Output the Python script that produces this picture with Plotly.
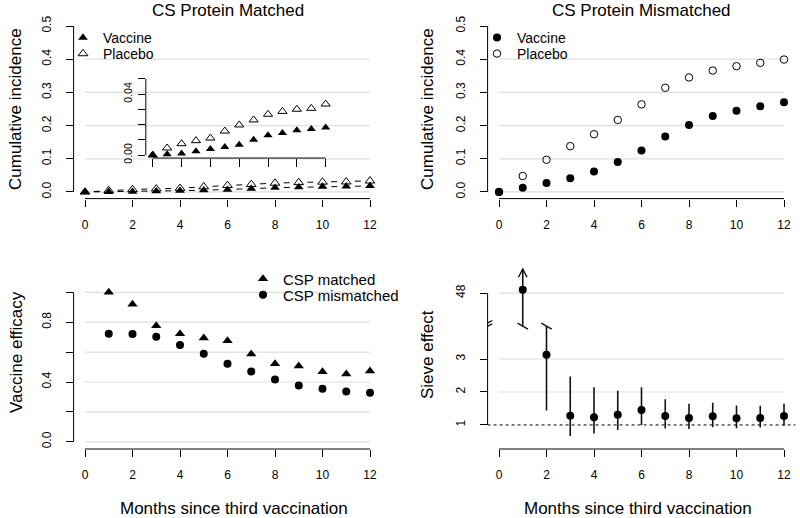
import plotly.graph_objects as go

# ---------------- data ----------------
months = list(range(13))
matched_vaccine = [0.0, 0.0005, 0.0010, 0.0024, 0.0039, 0.0052, 0.0068, 0.0100, 0.0129, 0.0144, 0.0162, 0.0170, 0.0180]
matched_placebo = [0.0, 0.0046, 0.0074, 0.0094, 0.0111, 0.0157, 0.0197, 0.0230, 0.0267, 0.0286, 0.0300, 0.0306, 0.0334]

mismatched_vaccine = [0.0, 0.013, 0.027, 0.041, 0.062, 0.090, 0.125, 0.167, 0.202, 0.229, 0.245, 0.258, 0.270]
mismatched_placebo = [0.0, 0.048, 0.097, 0.138, 0.174, 0.217, 0.264, 0.314, 0.345, 0.366, 0.379, 0.389, 0.399]

ve_months = list(range(1, 13))
ve_matched = [1.0, 0.92, 0.777, 0.723, 0.694, 0.676, 0.587, 0.522, 0.507, 0.469, 0.453, 0.473]
ve_mismatched = [0.723, 0.721, 0.703, 0.647, 0.589, 0.522, 0.471, 0.417, 0.377, 0.355, 0.337, 0.328]

sieve_months = list(range(1, 13))
sieve_est = [48.1, 3.13, 1.28, 1.23, 1.31, 1.45, 1.27, 1.21, 1.26, 1.20, 1.21, 1.27]
sieve_lo = [None, 1.44, 0.665, 0.74, 0.85, 1.00, 0.89, 0.88, 0.93, 0.90, 0.92, 0.98]   # None: below the axis break
sieve_hi = [None, None, 2.47, 2.14, 2.04, 2.14, 1.78, 1.64, 1.67, 1.59, 1.58, 1.64]    # None: beyond break / unbounded

x_ticks = [0, 2, 4, 6, 8, 10, 12]
ci_ticks = [0.0, 0.1, 0.2, 0.3, 0.4, 0.5]
ci_ticktext = ["0.0", "0.1", "0.2", "0.3", "0.4", "0.5"]
ci_grid = [0.0, 0.1, 0.2, 0.3, 0.4]
inset_ticks = [0.0, 0.01, 0.02, 0.03, 0.04, 0.05]
inset_ticktext = ["0.00", "", "", "", "0.04", ""]
ve_ticks = [0.0, 0.2, 0.4, 0.6, 0.8, 1.0]
ve_ticktext = ["0.0", "", "0.4", "", "0.8", ""]
sieve_tick_values = [1, 2, 3, 48]
sieve_grid_values = [2, 3, 48]

# ---------------- broken-axis mapping for the sieve panel ----------------
BREAK_LOW = 4.0      # axis position where the break sits
BREAK_SHIFT = 43.0   # values above the break are shifted down by this
ARROW_TOP = 5.73


def to_axis(v):
    return v if v <= BREAK_LOW else v - BREAK_SHIFT


# ---------------- style ----------------
W, H = 800, 518
FONT = "Liberation Sans, Arial, Helvetica, sans-serif"
INK = "#000000"
GRID = "#dedede"


def px_x(p):
    return p / W


def px_y(p):
    return 1 - p / H


TL_X = [px_x(73.6), px_x(381.4)]
TR_X = [px_x(487.6), px_x(795.4)]
TOP_Y = [px_y(198.6), px_y(19.4)]
BOT_Y = [px_y(449.0), px_y(255.2)]
INSET_X = [px_x(145.8), px_x(332.6)]
INSET_Y = [px_y(158.05), px_y(75.7)]

fig = go.Figure()

# ---- top-left: CS protein matched ----
dash_pat = "0px,8.9px,6px,8.85px"
fig.add_trace(go.Scatter(x=months, y=matched_placebo, mode="lines", line=dict(color=INK, width=1, dash=dash_pat),
                         showlegend=False, hoverinfo="skip", xaxis="x", yaxis="y"))
fig.add_trace(go.Scatter(x=months, y=matched_vaccine, mode="lines", line=dict(color=INK, width=1, dash=dash_pat),
                         showlegend=False, hoverinfo="skip", xaxis="x", yaxis="y"))
fig.add_trace(go.Scatter(x=months, y=matched_placebo, mode="markers", name="Placebo", legend="legend2",
                         marker=dict(symbol="triangle-up-open", size=8.5, color=INK, line=dict(width=1, color=INK)),
                         xaxis="x", yaxis="y"))
fig.add_trace(go.Scatter(x=months, y=matched_vaccine, mode="markers", name="Vaccine", legend="legend",
                         marker=dict(symbol="triangle-up", size=8.5, color=INK),
                         xaxis="x", yaxis="y"))
# inset
fig.add_trace(go.Scatter(x=months, y=matched_placebo, mode="markers", showlegend=False,
                         marker=dict(symbol="triangle-up-open", size=8, color=INK, line=dict(width=1, color=INK)),
                         xaxis="x5", yaxis="y5"))
fig.add_trace(go.Scatter(x=months, y=matched_vaccine, mode="markers", showlegend=False,
                         marker=dict(symbol="triangle-up", size=8, color=INK),
                         xaxis="x5", yaxis="y5"))

# ---- top-right: CS protein mismatched ----
fig.add_trace(go.Scatter(x=months, y=mismatched_placebo, mode="markers", name="Placebo", legend="legend4",
                         marker=dict(symbol="circle-open", size=7.5, color=INK, line=dict(width=1, color=INK)),
                         xaxis="x2", yaxis="y2"))
fig.add_trace(go.Scatter(x=months, y=mismatched_vaccine, mode="markers", name="Vaccine", legend="legend3",
                         marker=dict(symbol="circle", size=8, color=INK),
                         xaxis="x2", yaxis="y2"))

# ---- bottom-left: vaccine efficacy ----
fig.add_trace(go.Scatter(x=ve_months, y=ve_matched, mode="markers", name="CSP matched", legend="legend5",
                         marker=dict(symbol="triangle-up", size=9, color=INK), xaxis="x3", yaxis="y3"))
fig.add_trace(go.Scatter(x=ve_months, y=ve_mismatched, mode="markers", name="CSP mismatched", legend="legend6",
                         marker=dict(symbol="circle", size=8, color=INK), xaxis="x3", yaxis="y3"))

# ---- bottom-right: sieve effect (broken axis) ----
est_pos = [to_axis(v) for v in sieve_est]
hi_pos, lo_pos = [], []
for e, lo, hi in zip(est_pos, sieve_lo, sieve_hi):
    if hi is None:
        hi_pos.append(ARROW_TOP if e > BREAK_LOW else BREAK_LOW)
    else:
        hi_pos.append(to_axis(hi))
    lo_pos.append(BREAK_LOW if lo is None else to_axis(lo))

fig.add_trace(go.Scatter(
    x=sieve_months, y=est_pos, mode="markers", showlegend=False,
    marker=dict(symbol="circle", size=8, color=INK),
    error_y=dict(type="data", symmetric=False,
                 array=[h - e for h, e in zip(hi_pos, est_pos)],
                 arrayminus=[e - l for e, l in zip(est_pos, lo_pos)],
                 width=0, thickness=1.6, color="#111111"),
    xaxis="x4", yaxis="y4"))

# ---------------- axes ----------------
tickfont = dict(family=FONT, size=12, color=INK)


def xaxis(domain, anchor, labels=True):
    return dict(domain=domain, anchor=anchor, range=[-0.48, 12.48], tickmode="array", tickvals=x_ticks,
                ticktext=[str(t) for t in x_ticks], ticks="outside", ticklen=7, tickwidth=1, tickcolor=INK,
                showline=False, showgrid=False, zeroline=False, showticklabels=labels, tickfont=tickfont,
                ticklabelstandoff=8, fixedrange=True)


def yaxis(domain, anchor, rng, tv, tt, font=tickfont, standoff=10):
    return dict(domain=domain, anchor=anchor, range=rng, tickmode="array", tickvals=tv, ticktext=tt,
                ticks="outside", ticklen=7, tickwidth=1, tickcolor=INK, tickangle=-90,
                showline=False, showgrid=False, zeroline=False, tickfont=font,
                ticklabelstandoff=standoff, fixedrange=True)


sieve_pos_ticks = [to_axis(v) for v in sieve_tick_values]

fig.update_layout(
    xaxis=xaxis(TL_X, "y"),
    yaxis=yaxis(TOP_Y, "x", [-0.02, 0.52], ci_ticks, ci_ticktext),
    xaxis2=xaxis(TR_X, "y2"),
    yaxis2=yaxis(TOP_Y, "x2", [-0.02, 0.52], ci_ticks, ci_ticktext),
    xaxis3=xaxis(TL_X, "y3"),
    yaxis3=yaxis(BOT_Y, "x3", [-0.048, 1.248], ve_ticks, ve_ticktext),
    xaxis4=xaxis(TR_X, "y4"),
    yaxis4=yaxis(BOT_Y, "x4", [0.27, 6.15], sieve_pos_ticks, [str(v) for v in sieve_tick_values]),
    xaxis5=xaxis(INSET_X, "y5", labels=False),
    yaxis5=yaxis(INSET_Y, "x5", [-0.002, 0.052], inset_ticks, inset_ticktext,
                 font=dict(family=FONT, size=10.5, color=INK), standoff=2),
)
fig.layout.xaxis5.ticklen = 8

# ---------------- shapes: grid lines, R-style axis lines, decorations ----------------
shapes = []


def grid(xr, yr, values):
    for g in values:
        shapes.append(dict(type="line", xref=xr, yref=yr, x0=0, x1=12, y0=g, y1=g,
                           line=dict(color=GRID, width=1.2), layer="below"))


grid("x", "y", ci_grid)
grid("x2", "y2", ci_grid)
grid("x3", "y3", ve_ticks)
grid("x4", "y4", [to_axis(v) for v in sieve_grid_values])

# white legend backings (legend bg hides the grid)
for (x0, x1, y0, y1) in [(74.5, 152, 22, 62), (488.5, 567, 22, 62), (262, 400, 268, 304)]:
    shapes.append(dict(type="rect", xref="paper", yref="paper", x0=px_x(x0), x1=px_x(x1),
                       y0=px_y(y1), y1=px_y(y0), fillcolor="white", line=dict(width=0), layer="below"))


def axis_lines(xr, yr, y0, y1):
    shapes.append(dict(type="line", xref=xr + " domain", yref=yr, x0=0, x1=0, y0=y0, y1=y1,
                       line=dict(color=INK, width=1), layer="above"))
    shapes.append(dict(type="line", xref=xr, yref=yr + " domain", x0=0, x1=12, y0=0, y1=0,
                       line=dict(color=INK, width=1), layer="above"))


axis_lines("x", "y", 0, 0.5)
axis_lines("x2", "y2", 0, 0.5)
axis_lines("x3", "y3", 0, 1.0)
axis_lines("x4", "y4", sieve_pos_ticks[0], sieve_pos_ticks[-1])
axis_lines("x5", "y5", 0, 0.05)

# reference line at sieve effect = 1
shapes.append(dict(type="line", xref="x4 domain", yref="y4", x0=0, x1=1, y0=1, y1=1,
                   line=dict(color=INK, width=1, dash="dot"), layer="above"))

# truncated CI ends marked with a slash at the break, arrow for unbounded
for m, e, lo, hi in zip(sieve_months, est_pos, sieve_lo, sieve_hi):
    if lo is None or (hi is None and e <= BREAK_LOW):
        shapes.append(dict(type="line", xref="x4", yref="y4", x0=m - 0.22, x1=m + 0.22,
                           y0=BREAK_LOW + 0.09, y1=BREAK_LOW - 0.09,
                           line=dict(color="#111111", width=1.4), layer="above"))
    if hi is None and e > BREAK_LOW:
        shapes.append(dict(type="path", xref="x4", yref="y4",
                           path=f"M {m - 0.18},{ARROW_TOP - 0.25} L {m},{ARROW_TOP} L {m + 0.18},{ARROW_TOP - 0.25}",
                           line=dict(color="#111111", width=1.4), layer="above"))

# axis break marks on the y axis
for dy in (0.0, -0.1):
    shapes.append(dict(type="line", xref="x4", yref="y4", x0=-0.48 - 0.2, x1=-0.48 + 0.2,
                       y0=4.02 + dy, y1=4.17 + dy, line=dict(color=INK, width=1.2), layer="above"))

fig.update_layout(shapes=shapes)


# ---------------- text: titles and axis titles ----------------
def label(text, x, y, size=17, angle=0):
    return dict(text=text, x=px_x(x), y=px_y(y), xref="paper", yref="paper", showarrow=False,
                xanchor="center", yanchor="middle", textangle=angle,
                font=dict(family=FONT, size=size, color=INK))


fig.update_layout(annotations=[
    label("CS Protein Matched", 227.5, 11),
    label("CS Protein Mismatched", 641.5, 11),
    label("Cumulative incidence", 15, 109, angle=-90),
    label("Cumulative incidence", 427, 109, angle=-90),
    label("Vaccine efficacy", 16, 352, angle=-90),
    label("Sieve effect", 427, 354, angle=-90),
    label("Months since third vaccination", 234, 508),
    label("Months since third vaccination", 638, 508),
])


# ---------------- legends (one entry each, placed like the reference) ----------------
def legend(x, y, size):
    return dict(x=px_x(x), y=px_y(y), xref="paper", yref="paper", xanchor="left", yanchor="top",
                bgcolor="rgba(0,0,0,0)", borderwidth=0, font=dict(family=FONT, size=size, color=INK),
                itemwidth=30)


fig.update_layout(
    legend=legend(63, 22, 14),
    legend2=legend(63, 38, 14),
    legend3=legend(477, 22, 14),
    legend4=legend(477, 38, 14),
    legend5=legend(243, 262.5, 15),
    legend6=legend(243, 278.5, 15),
)

fig.update_layout(width=W, height=H, margin=dict(l=0, r=0, t=0, b=0), template="none",
                  paper_bgcolor="white", plot_bgcolor="rgba(0,0,0,0)", font=dict(family=FONT, color=INK),
                  showlegend=True, hovermode=False)

fig.write_html("out.html", config={"displayModeBar": False},
               post_script="document.body.style.margin='0';document.body.style.padding='0';")
